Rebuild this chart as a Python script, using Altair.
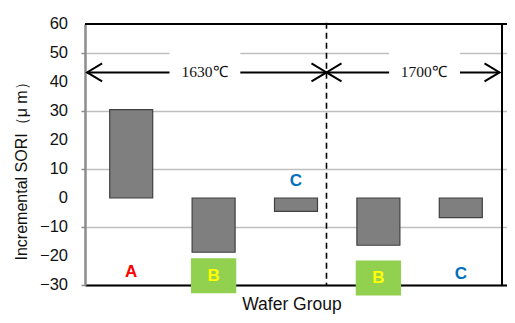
import altair as alt
import pandas as pd

# ---- data ----
groups = ["A", "B", "C", "B", "C"]
temps = ["1630℃", "1630℃", "1630℃", "1700℃", "1700℃"]
values = [30.5, -18.7, -4.6, -16.3, -6.8]
label_colors = ["#FF0000", "#FFFF00", "#0070C0", "#FFFF00", "#0070C0"]
label_boxed = [False, True, False, True, False]
label_y = [-25.4, -26.8, 5.9, -27.6, -26.2]
y_ticks = [-30, -20, -10, 0, 10, 20, 30, 40, 50, 60]
divider_x = 2.87          # dashed boundary between temperature regions (category units)
arrow_y = 43.3
temp_labels = ["1630℃", "1700℃"]
temp_label_x = [1.39, 4.05]
temp_spans = [(-0.035, 2.87), (2.87, 4.97)]
temp_gap = [(0.965, 1.824), (3.63, 4.49)]

bars = pd.DataFrame({
    "pos": [i + 0.5 for i in range(len(groups))],
    "group": groups,
    "temp": temps,
    "value": values,
})

lbl = pd.DataFrame({
    "pos": [i + 0.5 for i in range(len(groups))],
    "group": groups,
    "color": label_colors,
    "boxed": label_boxed,
    "y": label_y,
})
boxes = lbl[lbl["boxed"]].copy()
boxes["x1"] = boxes["pos"] - 0.275
boxes["x2"] = boxes["pos"] + 0.275
boxes["y1"] = boxes["y"] + 6.05
boxes["y2"] = boxes["y"] - 6.05

W, H = 422, 261
xs = alt.Scale(domain=[0, 5], nice=False, zero=False)
ys = alt.Scale(domain=[-30, 60], nice=False, zero=False)

bar_layer = alt.Chart(bars).mark_bar(
    size=43, color="#7F7F7F", stroke="#404040", strokeWidth=1.2
).encode(
    x=alt.X("pos:Q", scale=xs, axis=alt.Axis(
        title="Wafer Group", titleX=206.5, labels=False, ticks=False, grid=False,
        domainColor="#000000", domainWidth=2,
        titleFont="Liberation Sans", titleFontSize=17.5, titleFontWeight="normal",
        titleColor="#111111", titlePadding=10)),
    y=alt.Y("value:Q", scale=ys, axis=alt.Axis(
        title="Incremental SORI（μ m）", values=y_ticks, labels=False,
        grid=True, gridColor="#BFBFBF", gridWidth=1.5,
        domainColor="#8C8C8C", domainWidth=2.5, tickColor="#8C8C8C", tickSize=4, tickWidth=1.5,
        titleFont="Liberation Sans", titleFontSize=16, titleFontWeight="normal",
        titleColor="#111111", titleAlign="left", titleBaseline="middle",
        titleAngle=270, titleX=-64, titleY=236)),
)

# y tick labels
tick_df = pd.DataFrame({"v": y_ticks})
tick_labels = alt.Chart(tick_df).mark_text(
    font="Liberation Sans", fontSize=16.5, color="#111111", align="right", baseline="middle"
).encode(
    y="v:Q", x=alt.value(-17), text=alt.Text("v:Q", format="d")
)

# frame (top and right)
frame_top = alt.Chart(pd.DataFrame({"y": [60]})).mark_rule(color="#000000", strokeWidth=2).encode(
    y="y:Q", x=alt.value(0), x2=alt.value(W)
)
frame_right = alt.Chart(pd.DataFrame({"x": [5]})).mark_rule(color="#000000", strokeWidth=2).encode(
    x="x:Q", y=alt.value(0), y2=alt.value(H)
)

# dashed divider
div_df = pd.DataFrame({"x": [divider_x], "y1": [60.4], "y2": [-30]})
divider = alt.Chart(div_df).mark_rule(color="#000000", strokeWidth=1.6, strokeDash=[6, 4]).encode(
    x="x:Q", y="y1:Q", y2="y2:Q"
)

# arrows
arr_df = pd.DataFrame({
    "x1": [s[0] for s in temp_spans], "x2": [s[1] for s in temp_spans],
    "y": [arrow_y] * len(temp_spans),
})
arrow_lines = alt.Chart(arr_df).mark_rule(color="#000000", strokeWidth=2).encode(
    x="x1:Q", x2="x2:Q", y="y:Q"
)
left_heads = alt.Chart(arr_df).mark_point(
    shape="M1,-0.6L0,0L1,0.6", filled=False, size=900, stroke="#000000", strokeWidth=2, opacity=1
).encode(x="x1:Q", y="y:Q")
right_heads = alt.Chart(arr_df).mark_point(
    shape="M-1,-0.6L0,0L-1,0.6", filled=False, size=900, stroke="#000000", strokeWidth=2, opacity=1
).encode(x="x2:Q", y="y:Q")

gap_df = pd.DataFrame({
    "x1": [g[0] for g in temp_gap], "x2": [g[1] for g in temp_gap],
    "y1": [38.6] * 2, "y2": [51.3] * 2,
})
gaps = alt.Chart(gap_df).mark_rect(color="#FFFFFF").encode(
    x="x1:Q", x2="x2:Q", y="y1:Q", y2="y2:Q"
)
temp_df = pd.DataFrame({"x": temp_label_x, "y": [arrow_y] * 2, "t": temp_labels})
temp_text = alt.Chart(temp_df).mark_text(
    font="Liberation Serif", fontSize=15.5, color="#111111", baseline="middle", align="center"
).encode(x="x:Q", y="y:Q", text="t:N")

# group labels
box_layer = alt.Chart(boxes).mark_rect(color="#92D050").encode(
    x="x1:Q", x2="x2:Q", y="y1:Q", y2="y2:Q"
)
label_layer = alt.Chart(lbl).mark_text(
    font="Liberation Sans", fontSize=17, fontWeight="bold", baseline="middle", align="center"
).encode(
    x="pos:Q", y="y:Q", text="group:N", color=alt.Color("color:N", scale=None)
)

chart = alt.layer(
    bar_layer, tick_labels, frame_top, frame_right, divider, arrow_lines, gaps,
    left_heads, right_heads, temp_text, box_layer, label_layer
).properties(
    width=W, height=H,
    background="#FFFFFF",
    autosize=alt.AutoSizeParams(type="none"),
    padding={"left": 77, "top": 16, "right": 0, "bottom": 30},
).configure_view(
    stroke=None
)

chart.save("out.html", embed_options={"renderer": "svg", "actions": False})
